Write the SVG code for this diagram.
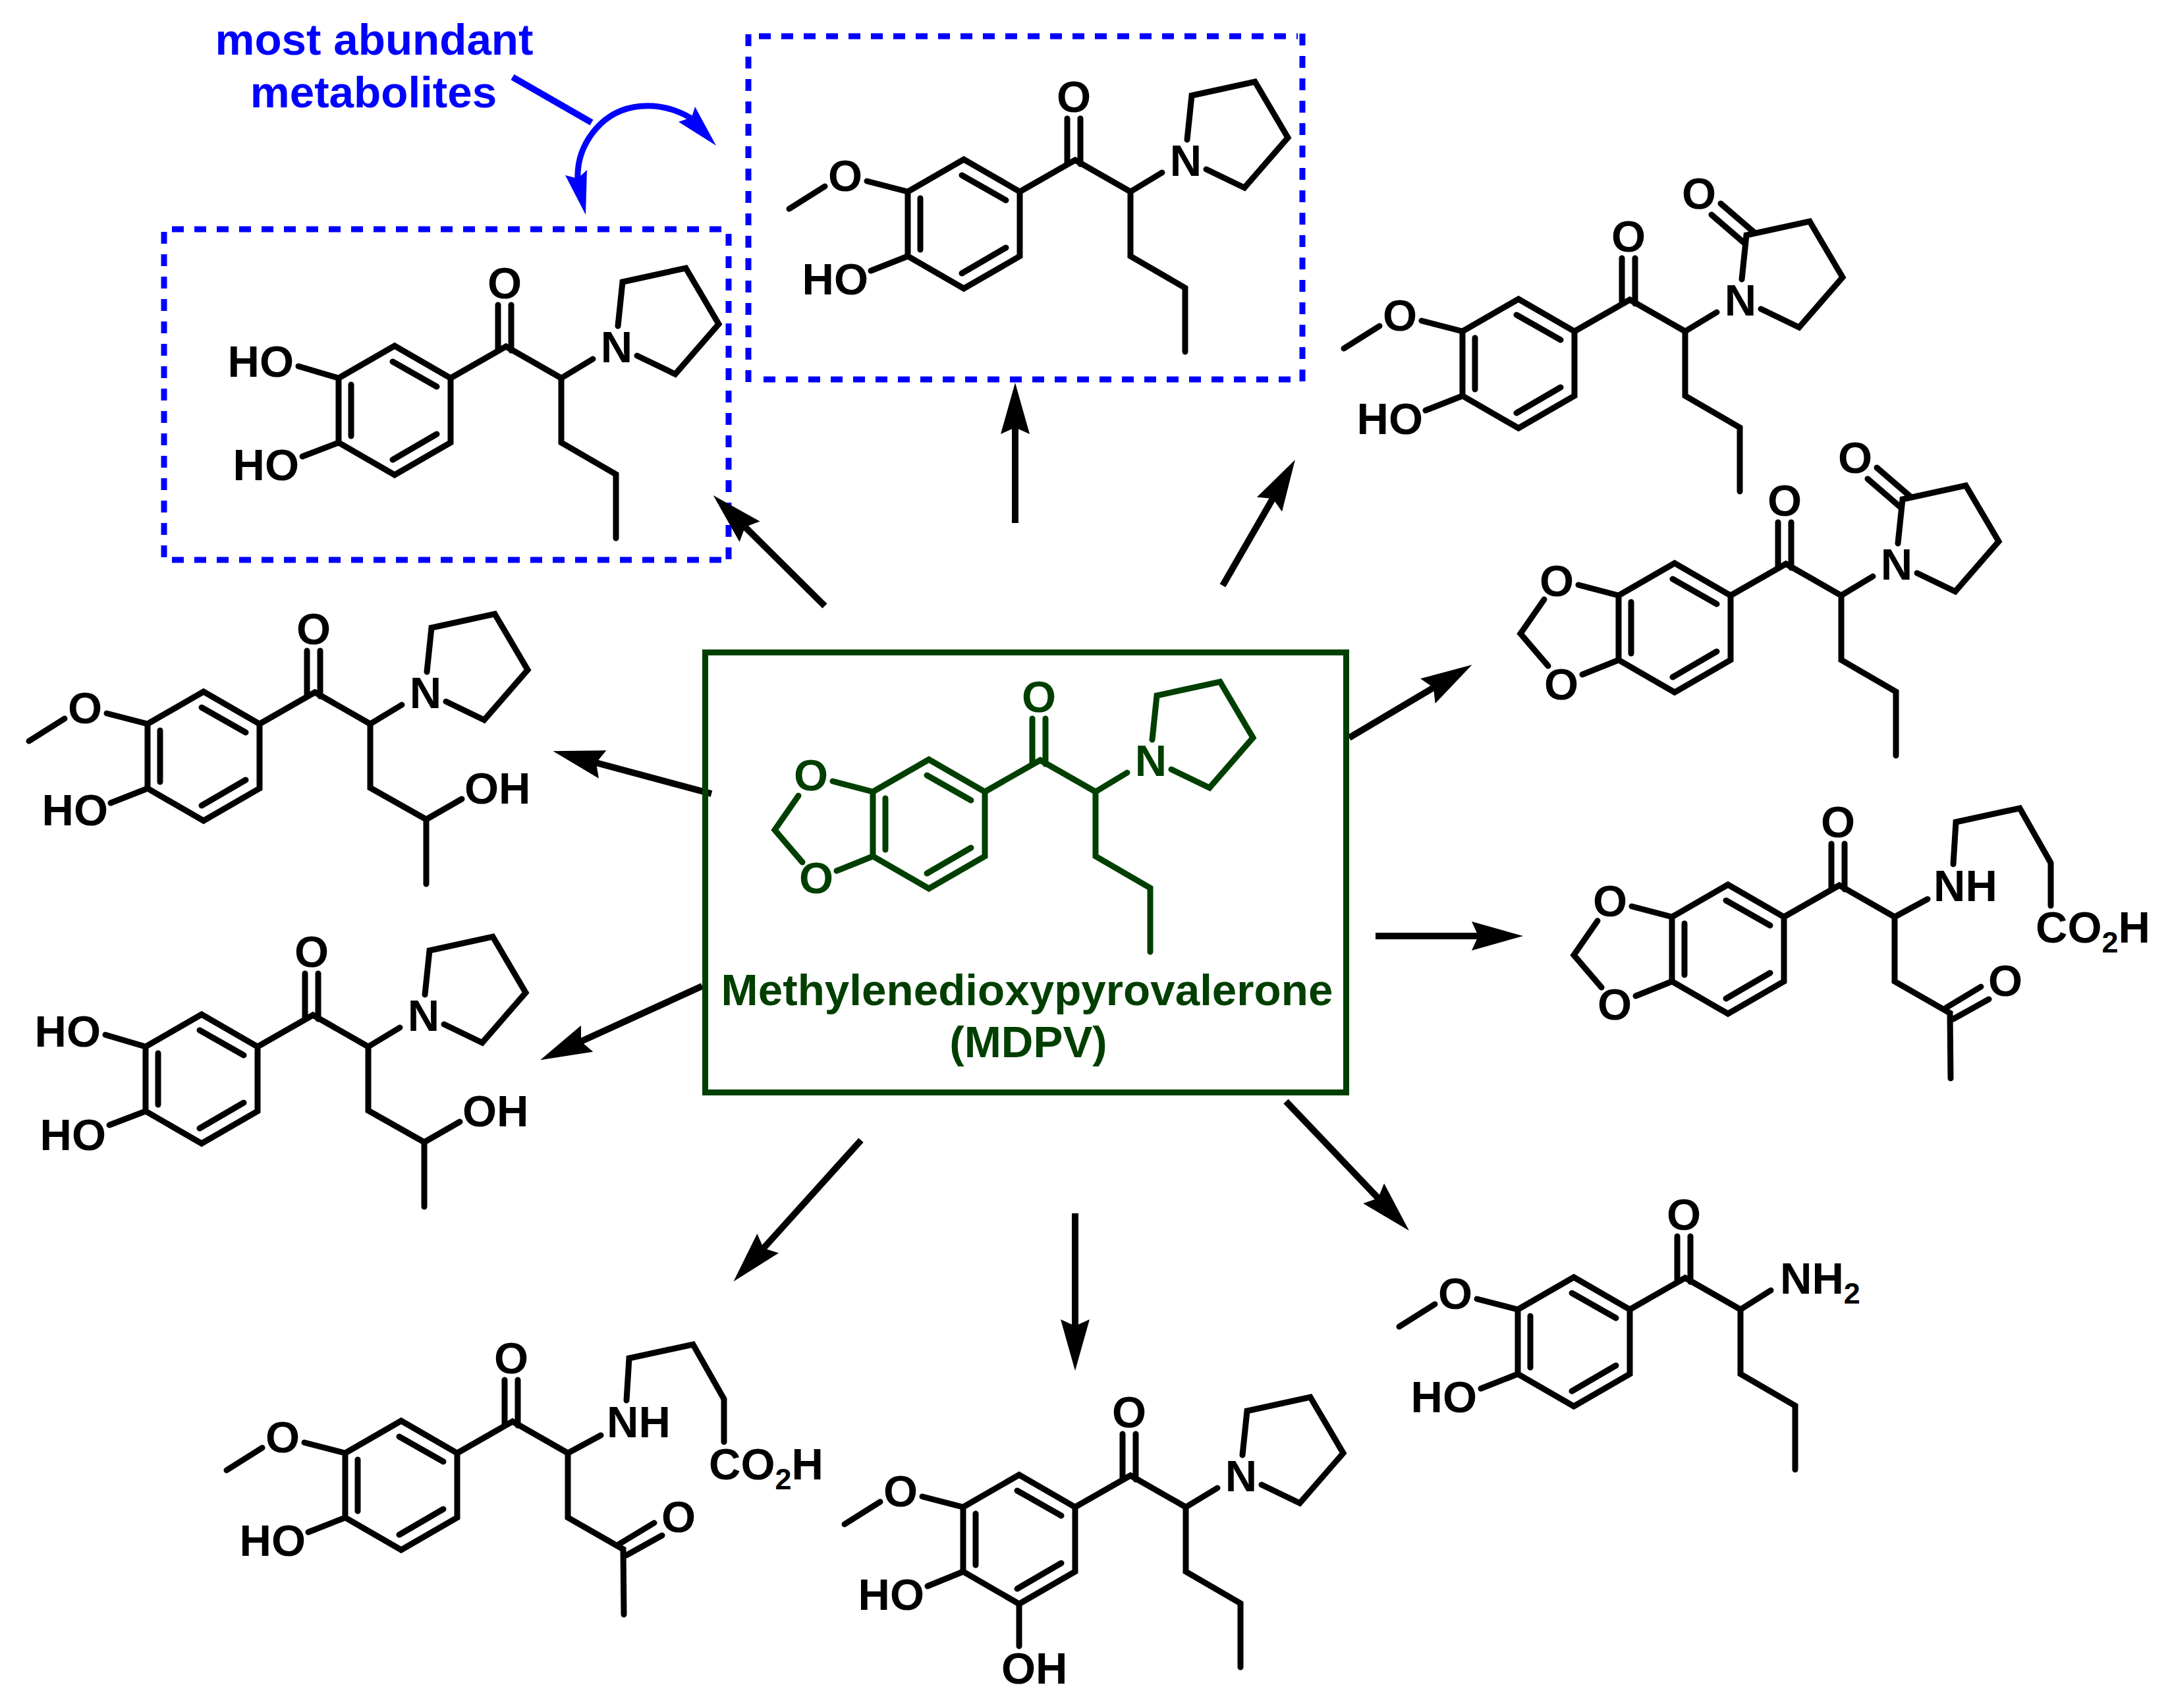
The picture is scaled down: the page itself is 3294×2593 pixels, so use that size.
<svg xmlns="http://www.w3.org/2000/svg" width="3294" height="2593" viewBox="0 0 3294 2593">
<style>
.mol{fill:none;stroke:#000;stroke-width:9;stroke-linecap:round;stroke-linejoin:miter}
.mol text{font:bold 67px "Liberation Sans",Arial,sans-serif;fill:#000;stroke:none}
.mol text.m{text-anchor:middle}
.mol text.e{text-anchor:end}
.mol .s{font-size:45px}
.green{stroke:#003f00}
.mol.green text{fill:#003f00}
.label{font:bold 67.4px "Liberation Sans",Arial,sans-serif;text-anchor:middle}
.arrow{fill:none;stroke:#000;stroke-width:10;marker-end:url(#head)}
.box{fill:none;stroke:#0000ff;stroke-width:9;stroke-dasharray:18 16}
</style>
<defs>
<marker id="head" markerUnits="userSpaceOnUse" markerWidth="80" markerHeight="44" viewBox="0 0 78 44" refX="10" refY="22" orient="auto"><path d="M78,22 L0,0 L10,22 L0,44 Z" fill="#000"/></marker>
<path id="aryl" d="M0,0 L85,-49 L170,0 L170,98 L85,147 L0,98 Z M82,-25 L149,13 M19,10 L19,88 M149,85 L82,124 M170,0 L254,-48 L338,0 M242,-111 L242,-42 M262,-111 L262,-42"/>
<path id="toN" d="M338,0 L386,-29"/>
<path id="propyl" d="M338,0 L338,98 L421,146 L421,243"/>
<path id="pyrr" d="M424,-79 L431,-146 L527,-167 L577,-82 L511,-6 L453,-34"/>
<path id="lactamO" d="M392,-194 L443,-150 M378,-177 L429,-133"/>
<path id="ome" d="M0,0 L-62,-16 M-126,-8 L-180,26"/>
<path id="hoLow" d="M0,98 L-56,120"/>
<path id="dioxole" d="M0,0 L-61,-16 M0,98 L-55,120 M-113,6 L-149,58 L-107,107"/>
<path id="hydroxy" d="M338,0 L338,97 L423,145 L423,243 M423,145 L477,114"/>
<path id="gaba" d="M338,0 L388,-27 M427,-80 L431,-144 L528,-165 L575,-82 L575,-17 M338,0 L338,98 L422,146 L423,245 M416,138 L469,106 M427,155 L481,125"/>
</defs>

<g id="highlight-a">
<path class="box" d="M261,348 H1097"/>
<path class="box" d="M1106,355 V851"/>
<path class="box" d="M261,850 H1097"/>
<path class="box" d="M249,352 V846"/>
</g>
<g id="highlight-b">
<path class="box" d="M1152,55 H1970"/>
<path class="box" d="M1977,51 V580"/>
<path class="box" d="M1159,576 H1966"/>
<path class="box" d="M1136,52 V580"/>
</g>

<g id="annotation">
<text x="568" y="83" class="label" fill="#0000ff">most abundant</text>
<text x="567" y="163" class="label" fill="#0000ff">metabolites</text>
<path d="M778,117 L898,186" fill="none" stroke="#0000ff" stroke-width="10"/>
<path d="M1050,180 C1000,150 940,155 905,195 C885,218 876,245 877,272" fill="none" stroke="#0000ff" stroke-width="9"/>
<path d="M1087,221 L1055,162 L1050,178 L1030,185 Z" fill="#0000ff"/>
<path d="M889,326 L858,266 L877,271 L891,258 Z" fill="#0000ff"/>
</g>

<g id="connectors">
<path class="arrow" d="M1541,794 L1541,649"/>
<path class="arrow" d="M1856,889 L1932,757"/>
<path class="arrow" d="M1252,920 L1131,800"/>
<path class="arrow" d="M2048,1120 L2176,1044"/>
<path class="arrow" d="M2088,1421 L2244,1421"/>
<path class="arrow" d="M1952,1672 L2092,1819"/>
<path class="arrow" d="M1632,1842 L1632,2013"/>
<path class="arrow" d="M1307,1731 L1159,1895"/>
<path class="arrow" d="M1080,1205 L905,1158"/>
<path class="arrow" d="M1066,1497 L882,1581"/>
</g>

<g id="mdpv">
<rect x="1070.5" y="990.5" width="973" height="668" fill="none" stroke="#003f00" stroke-width="9"/>
<g class="mol green" transform="translate(1325,1202)">
<use href="#aryl"/><use href="#toN"/><use href="#propyl"/><use href="#pyrr"/><use href="#dioxole"/>
<text class="m" x="252" y="-121">O</text><text class="m" x="422" y="-24">N</text><text class="m" x="-94" y="-2">O</text><text class="m" x="-86" y="154">O</text>
</g>
<text class="label" x="1559" y="1526" fill="#003f00">Methylenedioxypyrovalerone</text>
<text class="label" x="1561" y="1605" fill="#003f00">(MDPV)</text>
</g>

<g id="mol-a" class="mol" transform="translate(514,574)">
<use href="#aryl"/><use href="#toN"/><use href="#propyl"/><use href="#pyrr"/>
<path d="M0,0 L-61,-18 M0,98 L-55,119"/>
<text class="m" x="252" y="-121">O</text><text class="m" x="422" y="-24">N</text>
<text class="e" x="-68" y="-2">HO</text><text class="e" x="-60" y="155">HO</text>
</g>

<g id="mol-b" class="mol" transform="translate(1378,291)">
<use href="#aryl"/><use href="#toN"/><use href="#propyl"/><use href="#pyrr"/><use href="#ome"/><use href="#hoLow"/>
<text class="m" x="252" y="-121">O</text><text class="m" x="422" y="-24">N</text><text class="m" x="-95" y="-1">O</text>
<text class="e" x="-60" y="156">HO</text>
</g>

<g id="mol-c" class="mol" transform="translate(2220,503)">
<use href="#aryl"/><use href="#toN"/><use href="#propyl"/><use href="#pyrr"/><use href="#lactamO"/><use href="#ome"/><use href="#hoLow"/>
<text class="m" x="252" y="-121">O</text><text class="m" x="422" y="-24">N</text><text class="m" x="-95" y="-1">O</text><text class="m" x="359" y="-186">O</text>
<text class="e" x="-60" y="156">HO</text>
</g>

<g id="mol-d" class="mol" transform="translate(2457,904)">
<use href="#aryl"/><use href="#toN"/><use href="#propyl"/><use href="#pyrr"/><use href="#lactamO"/><use href="#dioxole"/>
<text class="m" x="252" y="-121">O</text><text class="m" x="422" y="-24">N</text><text class="m" x="359" y="-186">O</text>
<text class="m" x="-94" y="1">O</text><text class="m" x="-87" y="158">O</text>
</g>

<g id="mol-e" class="mol" transform="translate(224,1099)">
<use href="#aryl"/><use href="#toN"/><use href="#hydroxy"/><use href="#pyrr"/><use href="#ome"/><use href="#hoLow"/>
<text class="m" x="252" y="-121">O</text><text class="m" x="422" y="-24">N</text><text class="m" x="-95" y="-1">O</text>
<text class="e" x="-60" y="154">HO</text><text x="481" y="121">OH</text>
</g>

<g id="mol-f" class="mol" transform="translate(221,1589)">
<use href="#aryl"/><use href="#toN"/><use href="#hydroxy"/><use href="#pyrr"/>
<path d="M0,0 L-61,-18 M0,98 L-55,119"/>
<text class="m" x="252" y="-121">O</text><text class="m" x="422" y="-24">N</text>
<text class="e" x="-68" y="0">HO</text><text class="e" x="-60" y="157">HO</text><text x="481" y="121">OH</text>
</g>

<g id="mol-g" class="mol" transform="translate(2538,1392)">
<use href="#aryl"/><use href="#gaba"/><use href="#dioxole"/>
<text class="m" x="252" y="-121">O</text><text class="m" x="-94" y="-1">O</text><text class="m" x="-87" y="156">O</text><text class="m" x="506" y="120">O</text>
<text x="397" y="-24">NH</text>
<text x="552" y="39">CO<tspan class="s" dy="15">2</tspan><tspan dy="-15">H</tspan></text>
</g>

<g id="mol-h" class="mol" transform="translate(2304,1988)">
<use href="#aryl"/><use href="#propyl"/><use href="#ome"/><use href="#hoLow"/>
<path d="M338,0 L384,-29"/>
<text class="m" x="252" y="-121">O</text><text class="m" x="-95" y="-1">O</text>
<text class="e" x="-62" y="156">HO</text>
<text x="398" y="-24">NH<tspan class="s" dy="15">2</tspan></text>
</g>

<g id="mol-i" class="mol" transform="translate(524,2206)">
<use href="#aryl"/><use href="#gaba"/><use href="#ome"/><use href="#hoLow"/>
<text class="m" x="252" y="-121">O</text><text class="m" x="-95" y="-1">O</text><text class="m" x="506" y="120">O</text>
<text class="e" x="-60" y="156">HO</text>
<text x="397" y="-24">NH</text>
<text x="552" y="40">CO<tspan class="s" dy="15">2</tspan><tspan dy="-15">H</tspan></text>
</g>

<g id="mol-j" class="mol" transform="translate(1462,2288)">
<use href="#aryl"/><use href="#toN"/><use href="#propyl"/><use href="#pyrr"/><use href="#ome"/>
<path d="M0,98 L-54,120 M85,147 L85,211"/>
<text class="m" x="252" y="-121">O</text><text class="m" x="422" y="-24">N</text><text class="m" x="-95" y="-1">O</text>
<text class="e" x="-59" y="156">HO</text><text x="58" y="268">OH</text>
</g>
</svg>
